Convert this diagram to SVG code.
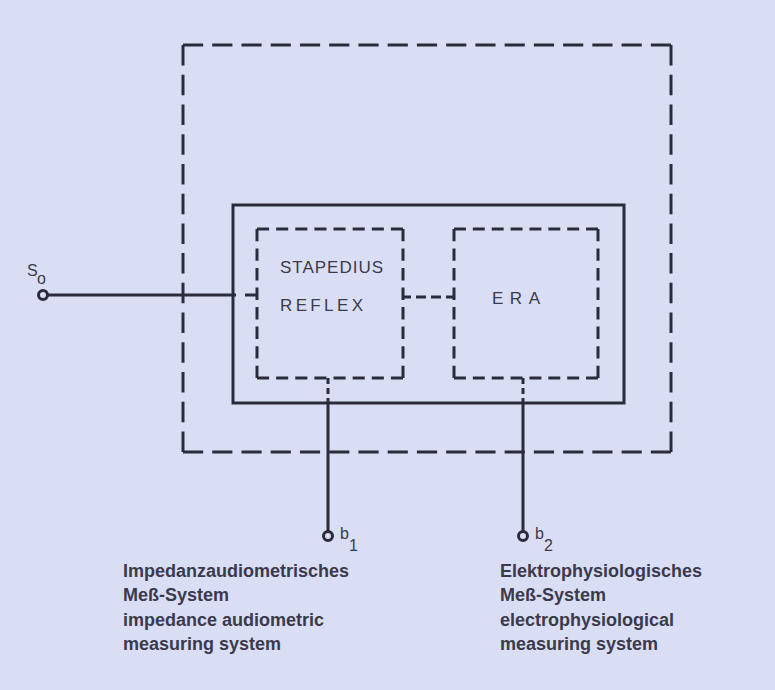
<svg xmlns="http://www.w3.org/2000/svg" width="775" height="690" viewBox="0 0 775 690">
  <style>
    .ln{stroke:#2b2b3b;stroke-width:3;fill:none;stroke-linecap:butt}
    .od{stroke-dasharray:20 9}
    .id{stroke-dasharray:12 7}
    .box{font-family:"Liberation Sans",Arial,sans-serif;font-size:17px;fill:#3a3a4c}
    .cap{font-family:"Liberation Sans",Arial,sans-serif;font-size:18px;font-weight:bold;fill:#3a3a4c}
    .term{font-family:"Liberation Sans",Arial,sans-serif;font-size:16px;fill:#3a3a4c}
  </style>
  <rect width="775" height="690" fill="#dadef4"/>

  <g id="outer-system">
    <path class="ln od" d="M183,45 H671" pathLength="484"/>
    <path class="ln od" d="M671,45 V452" pathLength="397"/>
    <path class="ln od" d="M671,452 H183" pathLength="484"/>
    <path class="ln od" d="M183,452 V45" pathLength="397"/>
  </g>

  <g id="solid-frame">
    <rect class="ln" x="233" y="205" width="391" height="198"/>
  </g>

  <g id="stapedius-reflex">
    <path class="ln id" d="M257,229 H403" pathLength="145"/>
    <path class="ln id" d="M403,229 V378" pathLength="145"/>
    <path class="ln id" d="M403,378 H257" pathLength="145"/>
    <path class="ln id" d="M257,378 V229" pathLength="145"/>
    <text class="box" x="280" y="273" textLength="103">STAPEDIUS</text>
    <text class="box" x="280" y="311" textLength="83">REFLEX</text>
  </g>

  <g id="era">
    <path class="ln id" d="M454,229 H598" pathLength="145"/>
    <path class="ln id" d="M598,229 V378" pathLength="145"/>
    <path class="ln id" d="M598,378 H454" pathLength="145"/>
    <path class="ln id" d="M454,378 V229" pathLength="145"/>
    <text class="box" x="492" y="304" textLength="48">ERA</text>
  </g>

  <g id="terminal-s0">
    <circle class="ln" cx="43" cy="295" r="4.5"/>
    <text class="term" x="27" y="276">S</text>
    <text class="term" x="37" y="284" font-size="13">o</text>
  </g>

  <g id="terminal-b1">
    <circle class="ln" cx="328" cy="536" r="4.5"/>
    <text class="term" x="340" y="539">b</text>
    <text class="term" x="349" y="551" font-size="14">1</text>
    <text class="cap" x="123" y="577">Impedanzaudiometrisches</text>
    <text class="cap" x="123" y="601">Meß-System</text>
    <text class="cap" x="123" y="626">impedance audiometric</text>
    <text class="cap" x="123" y="650">measuring system</text>
  </g>

  <g id="terminal-b2">
    <circle class="ln" cx="523" cy="536" r="4.5"/>
    <text class="term" x="535" y="539">b</text>
    <text class="term" x="544" y="551" font-size="14">2</text>
    <text class="cap" x="500" y="577">Elektrophysiologisches</text>
    <text class="cap" x="500" y="601">Meß-System</text>
    <text class="cap" x="500" y="626">electrophysiological</text>
    <text class="cap" x="500" y="650">measuring system</text>
  </g>

  <g id="connectors">
    <path class="ln" d="M47.5,295 H236"/>
    <path class="ln" d="M245,295 H257"/>
    <path class="ln" d="M403,297 H454" stroke-dasharray="8 5 10 5 10 5 8"/>
    <path class="ln" d="M328,378 V403" stroke-dasharray="6 4 6 4 5"/>
    <path class="ln" d="M328,403 V531.5"/>
    <path class="ln" d="M523,378 V403" stroke-dasharray="6 4 6 4 5"/>
    <path class="ln" d="M523,403 V531.5"/>
  </g>
</svg>
